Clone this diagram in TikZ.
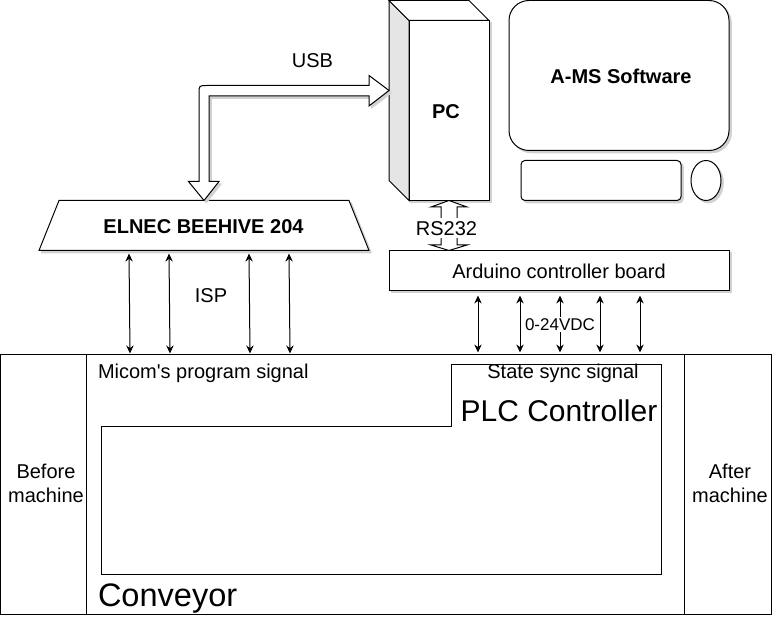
\documentclass[tikz,border=0pt]{standalone}
\usepackage{fontspec}
\setmainfont{Liberation Sans}
\usetikzlibrary{arrows.meta,shapes.geometric,shadows}
\tikzset{
        lbl/.style={inner sep=0pt, outer sep=0pt, align=center, font=\fontsize{15}{18}\selectfont},
        boldlbl/.style={lbl, font=\fontsize{15}{18}\selectfont\bfseries},
        shad/.style={drop shadow={shadow xshift=1.8pt, shadow yshift=-1.8pt, opacity=1, draw=black!18, fill=black!18, line width=0.6pt}},
        box/.style={draw=black, fill=white, line width=0.75pt, inner sep=0pt, outer sep=0pt},
        sbox/.style={box, shad},
        sig/.style={{Stealth[length=6pt,width=5.5pt]}-{Stealth[length=6pt,width=5.5pt]}, line width=0.75pt},
        fatarrow/.style={draw=black, fill=white, line width=0.75pt, line join=miter}
}
\begin{document}
\begin{tikzpicture}[x=0.75pt,y=-0.75pt]
        \useasboundingbox (0,-0.5) rectangle (783,626.5);
        % conveyor
        \node[box, minimum width=64.5pt, minimum height=195pt] (before) at (43,484) {};
        \node[box, minimum width=448.5pt, minimum height=195pt] (middle) at (385,484) {};
        \node[box, minimum width=65.25pt, minimum height=195pt] (after) at (727.5,484) {};
        \draw[line width=0.75pt] (451,364) -- (661,364) -- (661,574) -- (101,574) -- (101,426) -- (451,426) -- cycle;
        \node[lbl] (beforelbl) at (46,483) {Before\\machine};
        \node[lbl] (afterlbl) at (730,483) {After\\machine};
        \node[lbl, anchor=west] (micom) at (98,373) {Micom\textquotesingle s program signal};
        \node[lbl] (state) at (563,373) {State sync signal};
        \node[lbl, font=\fontsize{22.5}{26}\selectfont] (plc) at (559,410) {PLC Controller};
        \node[lbl, anchor=west, font=\fontsize{24.4}{28}\selectfont] (conveyor) at (98,598) {Conveyor};

        % pc and desk
        \filldraw[sbox, fill=black!10] (389,0) -- (409,20) -- (409,200) -- (389,180) -- cycle;
        \filldraw[box] (389,0) -- (469,0) -- (489,20) -- (409,20) -- cycle;
        \node[sbox, minimum width=60pt, minimum height=135pt] (pc) at (449,110) {};
        \node[boldlbl] (pclbl) at (446,111) {PC};
        \node[sbox, rounded corners=15pt, minimum width=165pt, minimum height=112.5pt] (monitor) at (619,75) {};
        \node[boldlbl] (ams) at (621,76) {A-MS Software};
        \node[sbox, rounded corners=3pt, minimum width=120pt, minimum height=30pt] (keyboard) at (601,180) {};
        \node[sbox, ellipse, minimum width=22.5pt, minimum height=30pt] (mouse) at (706,180) {};

        % boards
        \filldraw[sbox] (59,200) -- (349,200) -- (369,250) -- (39,250) -- cycle;
        \node[boldlbl] (elnec) at (203.5,226) {ELNEC BEEHIVE 204};
        \node[sbox, minimum width=255pt, minimum height=30pt] (arduino) at (559,270) {};
        \node[lbl] (arduinolbl) at (559,271) {Arduino controller board};

        % usb link
        \coordinate (usbprog) at (204,200);
        \coordinate (usbpc) at (389,90);
        \filldraw[fatarrow, shad] (usbprog) -- ++(15,-19) -- ++(-10,0) -- (209,95.5) -- (369,95.5) -- ++(0,10) -- (usbpc)
                -- (369,75) -- ++(0,10) -- (207,85) .. controls (199,85) .. (199,93) -- (199,181) -- (188.5,181) -- cycle;
        \node[lbl] (usb) at (312.5,60) {USB};

        % rs232 link
        \coordinate (rstop) at (449,200);
        \coordinate (rsbot) at (449,250);
        \filldraw[fatarrow] (rstop) -- ++(18,6.5) -- ++(-10,0) -- ++(0,38) -- ++(10,0) -- (rsbot)
                -- ++(-18,-5.5) -- ++(10,0) -- ++(0,-38) -- ++(-10,0) -- cycle;
        \node[lbl, fill=white, minimum width=46.5pt, minimum height=15pt] (rs232) at (446.5,228) {RS232};

        % signal lines
        \foreach \i/\xa/\xb in {1/129/130, 2/169/170, 3/249/250, 4/289/290} {
                \coordinate (ispt\i) at (\xa,253);
                \coordinate (ispb\i) at (\xb,353);
                \draw[sig] (ispt\i) -- (ispb\i);
        }
        \node[lbl] (isp) at (211,295) {ISP};
        \foreach \i/\xa in {1/478, 2/520, 3/560, 4/600, 5/640} {
                \coordinate (iot\i) at (\xa,295);
                \coordinate (iob\i) at (\xa,352);
                \draw[sig] (iot\i) -- (iob\i);
        }
        \node[lbl, fill=white, font=\fontsize{12.75}{15}\selectfont, inner sep=1pt] (vdc) at (560,324) {0-24VDC};
\end{tikzpicture}
\end{document}
